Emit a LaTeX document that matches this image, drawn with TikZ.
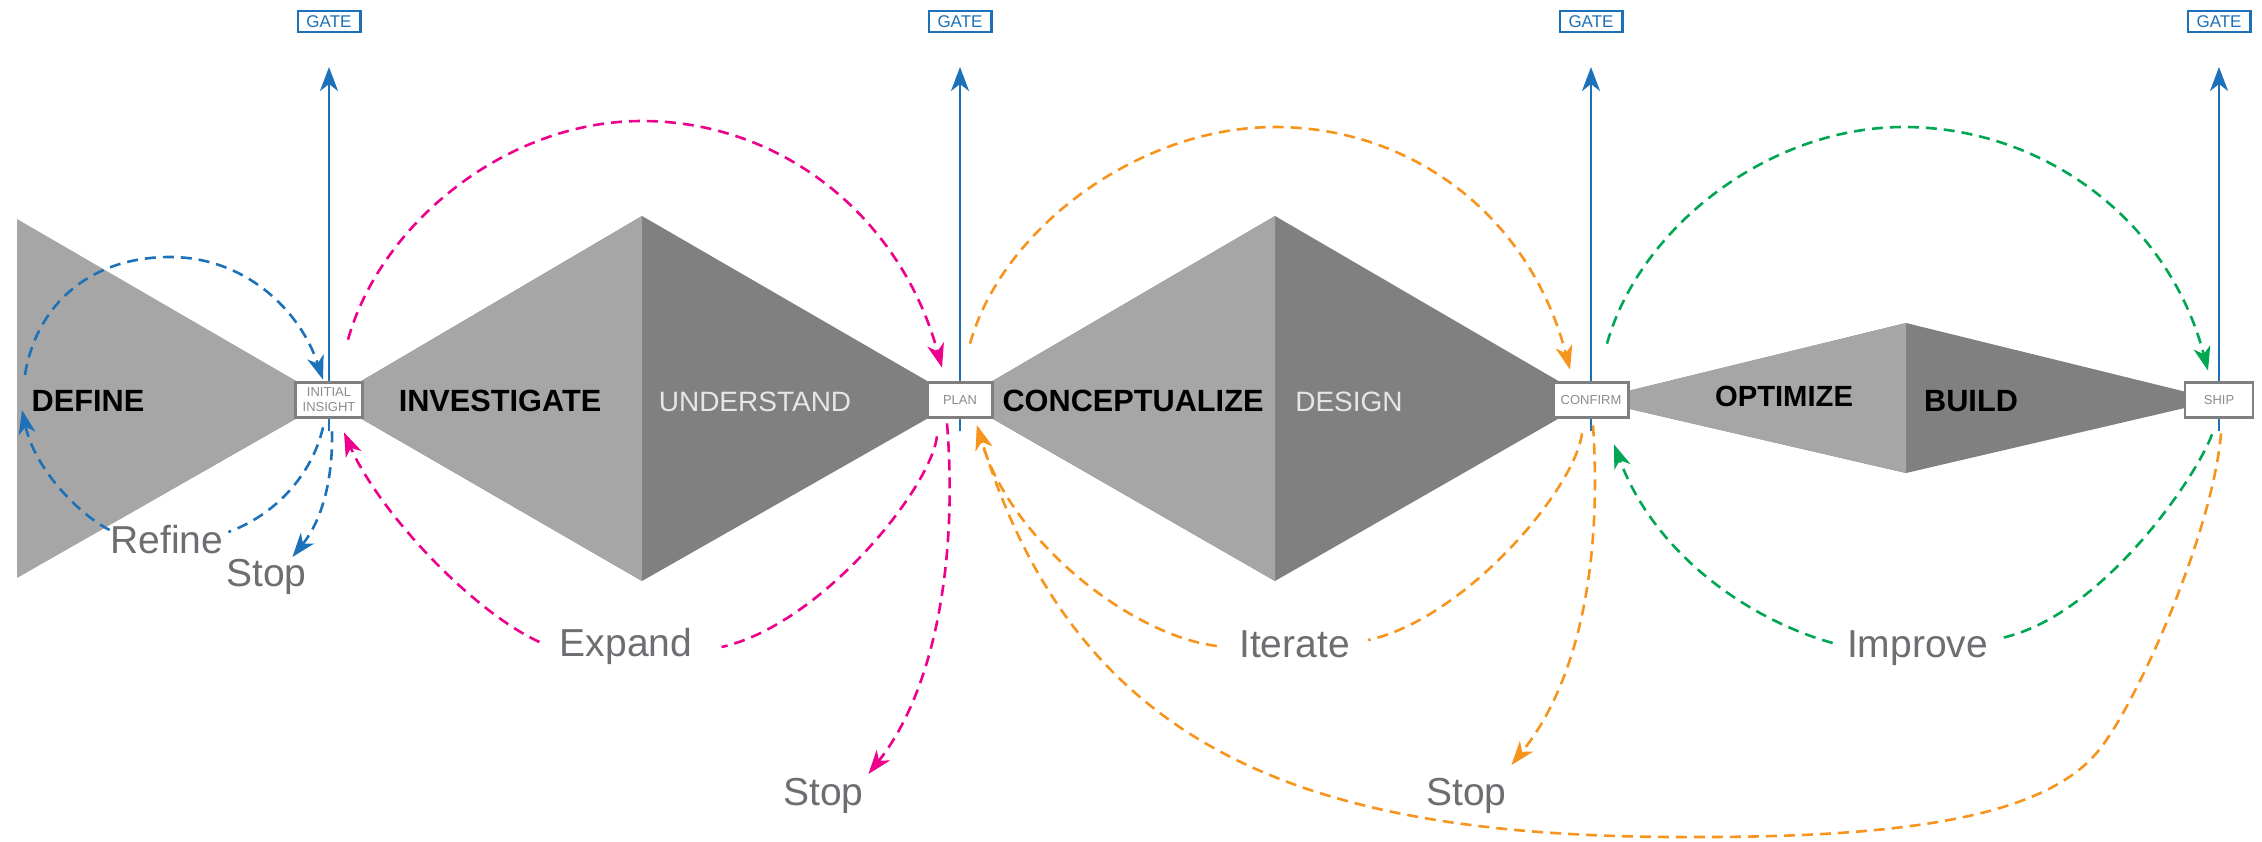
\documentclass[tikz,border=0pt]{standalone}
\usepackage{fontspec}
\setmainfont{Liberation Sans}
\usetikzlibrary{arrows.meta,calc}
\pgfdeclarelayer{bg}
\pgfsetlayers{bg,main}
\definecolor{gateblue}{HTML}{1D71B8}
\definecolor{flowpink}{HTML}{EC008C}
\definecolor{floworange}{HTML}{F7941D}
\definecolor{flowgreen}{HTML}{00A651}
\definecolor{lightshape}{HTML}{A6A6A6}
\definecolor{darkshape}{HTML}{808080}
\definecolor{boxgray}{HTML}{808080}
\definecolor{boxtext}{HTML}{8C8C8C}
\definecolor{lblgray}{HTML}{6D6E71}
\definecolor{lighttext}{HTML}{E6E6E6}
\begin{document}
\begin{tikzpicture}[x=0.5pt,y=-0.5pt,
  stagebox/.style={draw=boxgray, line width=1.35pt, fill=white, inner sep=0pt,
    minimum height=17.5pt, font=\fontsize{6.5pt}{7.5pt}\selectfont, text=boxtext, align=center},
  gatebox/.style={draw=gateblue, line width=1.1pt, fill=white, inner sep=0pt,
    minimum width=31.4pt, minimum height=10.4pt, font=\fontsize{8.5pt}{9pt}\selectfont, text=gateblue},
  gateline/.style={draw=gateblue, line width=1.4pt, -{Stealth[length=12pt,width=9pt,inset=3.5pt]}},
  loopline/.style={line width=1.3pt, dash pattern=on 5.5pt off 3.5pt},
  looparrow/.style={loopline, -{Stealth[length=12pt,width=8.5pt,inset=3.5pt]}},
  phase/.style={font=\fontsize{15.35pt}{18pt}\selectfont\bfseries, text=black, inner sep=0pt},
  subphase/.style={font=\fontsize{14pt}{16pt}\selectfont, text=lighttext, inner sep=0pt},
  lbl/.style={font=\fontsize{19.5pt}{22pt}\selectfont, text=lblgray, inner sep=0pt, anchor=base}]
\useasboundingbox (0,0) rectangle (2262,841);

% stage boxes
\node[stagebox, minimum width=33.5pt] (ii) at (329,400) {INITIAL\\INSIGHT};
\node[stagebox, minimum width=32.5pt] (plan) at (960,400) {PLAN};
\node[stagebox, minimum width=37.5pt] (confirm) at (1591,400) {CONFIRM};
\node[stagebox, minimum width=34pt] (ship) at (2219,400) {SHIP};

% gates
\node[gatebox] (g1) at (329,21.5) {GATE};
\node[gatebox] (g2) at (960,21.5) {GATE};
\node[gatebox] (g3) at (1591,21.5) {GATE};
\node[gatebox] (g4) at (2219,21.5) {GATE};

% phase shapes and gate lines
\begin{pgfonlayer}{bg}
  \fill[lightshape] (17,219) -- (ii.center) -- (17,578) -- cycle;
  \fill[darkshape] (ii.center) -- (642,216) -- (plan.center) -- (642,581) -- cycle;
  \fill[lightshape] (ii.center) -- (642,216) -- (642,581) -- cycle;
  \fill[darkshape] (plan.center) -- (1275,216) -- (confirm.center) -- (1275,581) -- cycle;
  \fill[lightshape] (plan.center) -- (1275,216) -- (1275,581) -- cycle;
  \fill[darkshape] (confirm.center) -- (1906,323) -- (ship.center) -- (1906,473) -- cycle;
  \fill[lightshape] (confirm.center) -- (1906,323) -- (1906,473) -- cycle;
  \draw[gateline] ($(ii.south)+(0,12.5)$) -- ($(g1.south)+(0,34)$);
  \draw[gateline] ($(plan.south)+(0,12.5)$) -- ($(g2.south)+(0,34)$);
  \draw[gateline] ($(confirm.south)+(0,12.5)$) -- ($(g3.south)+(0,34)$);
  \draw[gateline] ($(ship.south)+(0,12.5)$) -- ($(g4.south)+(0,34)$);
\end{pgfonlayer}

% phase names
\node[phase] (tdefine) at (88,401) {DEFINE};
\node[phase] (tinv) at (500,401) {INVESTIGATE};
\node[subphase] (tund) at (755,402) {UNDERSTAND};
\node[phase] (tcon) at (1133,401) {CONCEPTUALIZE};
\node[subphase] (tdes) at (1349,402) {DESIGN};
\node[phase, font=\fontsize{14.6pt}{18pt}\selectfont\bfseries] (topt) at (1784,396) {OPTIMIZE};
\node[phase] (tbuild) at (1971,401) {BUILD};

% loop labels
\node[lbl] (refine) at (167,553) {Refine};
\node[lbl] (stopA) at (266.5,586) {Stop};
\node[lbl] (expand) at (626,656) {Expand};
\node[lbl] (stopB) at (823.5,805) {Stop};
\node[lbl] (iterate) at (1294.5,657) {Iterate};
\node[lbl] (stopC) at (1466.5,805) {Stop};
\node[lbl] (improve) at (1917.5,657) {Improve};

% free ends on the DEFINE side
\coordinate (defL) at (25,375);
\coordinate (defB) at (22,410);

% define loop
\draw[looparrow, draw=gateblue] (defL) .. controls (35,310) and (85,257) .. (170,257)
  .. controls (245,257) and (300,310) .. ($(ii.north)+(-6,-1.5)$);
\draw[loopline, draw=gateblue] ($(ii.south)+(-6,8.5)$) .. controls (312,475) and (275,515) .. ($(refine.base east)+(4.6,-21)$);
\draw[looparrow, draw=gateblue] ($(refine.base west)+(-0.6,-23)$) .. controls (80,515) and (35,470) .. (defB);
\draw[looparrow, draw=gateblue] ($(ii.south)+(3,12.5)$) .. controls (333,480) and (322,520) .. ($(stopA.base east)+(-14.6,-29)$);

% investigate loop
\draw[looparrow, draw=flowpink] ($(ii.north)+(19,-41.5)$) .. controls (380,225) and (505,121) .. (642,121)
  .. controls (780,121) and (900,215) .. ($(plan.north)+(-18,-13.5)$);
\draw[loopline, draw=flowpink] ($(plan.south)+(-23,17.5)$) .. controls (930,490) and (820,625) .. ($(expand.base east)+(29,-9)$);
\draw[looparrow, draw=flowpink] ($(expand.base west)+(-20,-14)$) .. controls (470,610) and (378,510) .. ($(ii.south)+(15,13.5)$);
\draw[looparrow, draw=flowpink] ($(plan.south)+(-13,4.5)$) .. controls (958,560) and (935,690) .. ($(stopB.base east)+(4.4,-31)$);

% conceptualize loop
\draw[looparrow, draw=floworange] ($(plan.north)+(10,-37.5)$) .. controls (1002,229) and (1138,127) .. (1275,127)
  .. controls (1412,127) and (1530,216) .. ($(confirm.north)+(-21,-11.5)$);
\draw[loopline, draw=floworange] ($(confirm.south)+(-9,14.5)$) .. controls (1575,489) and (1465,619) .. ($(iterate.base east)+(18,-17)$);
\draw[looparrow, draw=floworange] ($(iterate.base west)+(-22,-11)$) .. controls (1130,635) and (1010,540) .. ($(plan.south)+(17,6.5)$);
\draw[looparrow, draw=floworange] ($(confirm.south)+(2,6.5)$) .. controls (1602,560) and (1580,680) .. ($(stopC.base east)+(4.4,-40)$);
\draw[looparrow, draw=floworange] ($(ship.south)+(2,14.5)$) .. controls (2213,530) and (2139,700) .. (2099,750)
  .. controls (2045,818) and (1900,837) .. (1700,837)
  .. controls (1320,839) and (1080,760) .. ($(plan.south)+(17,6.5)$);

% optimize loop
\draw[looparrow, draw=flowgreen] ($(confirm.north)+(16,-37.5)$) .. controls (1639,229) and (1767,127) .. (1904,127)
  .. controls (2041,127) and (2168,218) .. ($(ship.north)+(-11,-10.5)$);
\draw[loopline, draw=flowgreen] ($(ship.south)+(-7,15.5)$) .. controls (2195,480) and (2100,617) .. ($(improve.base east)+(13,-19)$);
\draw[looparrow, draw=flowgreen] ($(improve.base west)+(-14,-14)$) .. controls (1750,620) and (1655,555) .. ($(confirm.south)+(23,25.5)$);
\end{tikzpicture}
\end{document}
